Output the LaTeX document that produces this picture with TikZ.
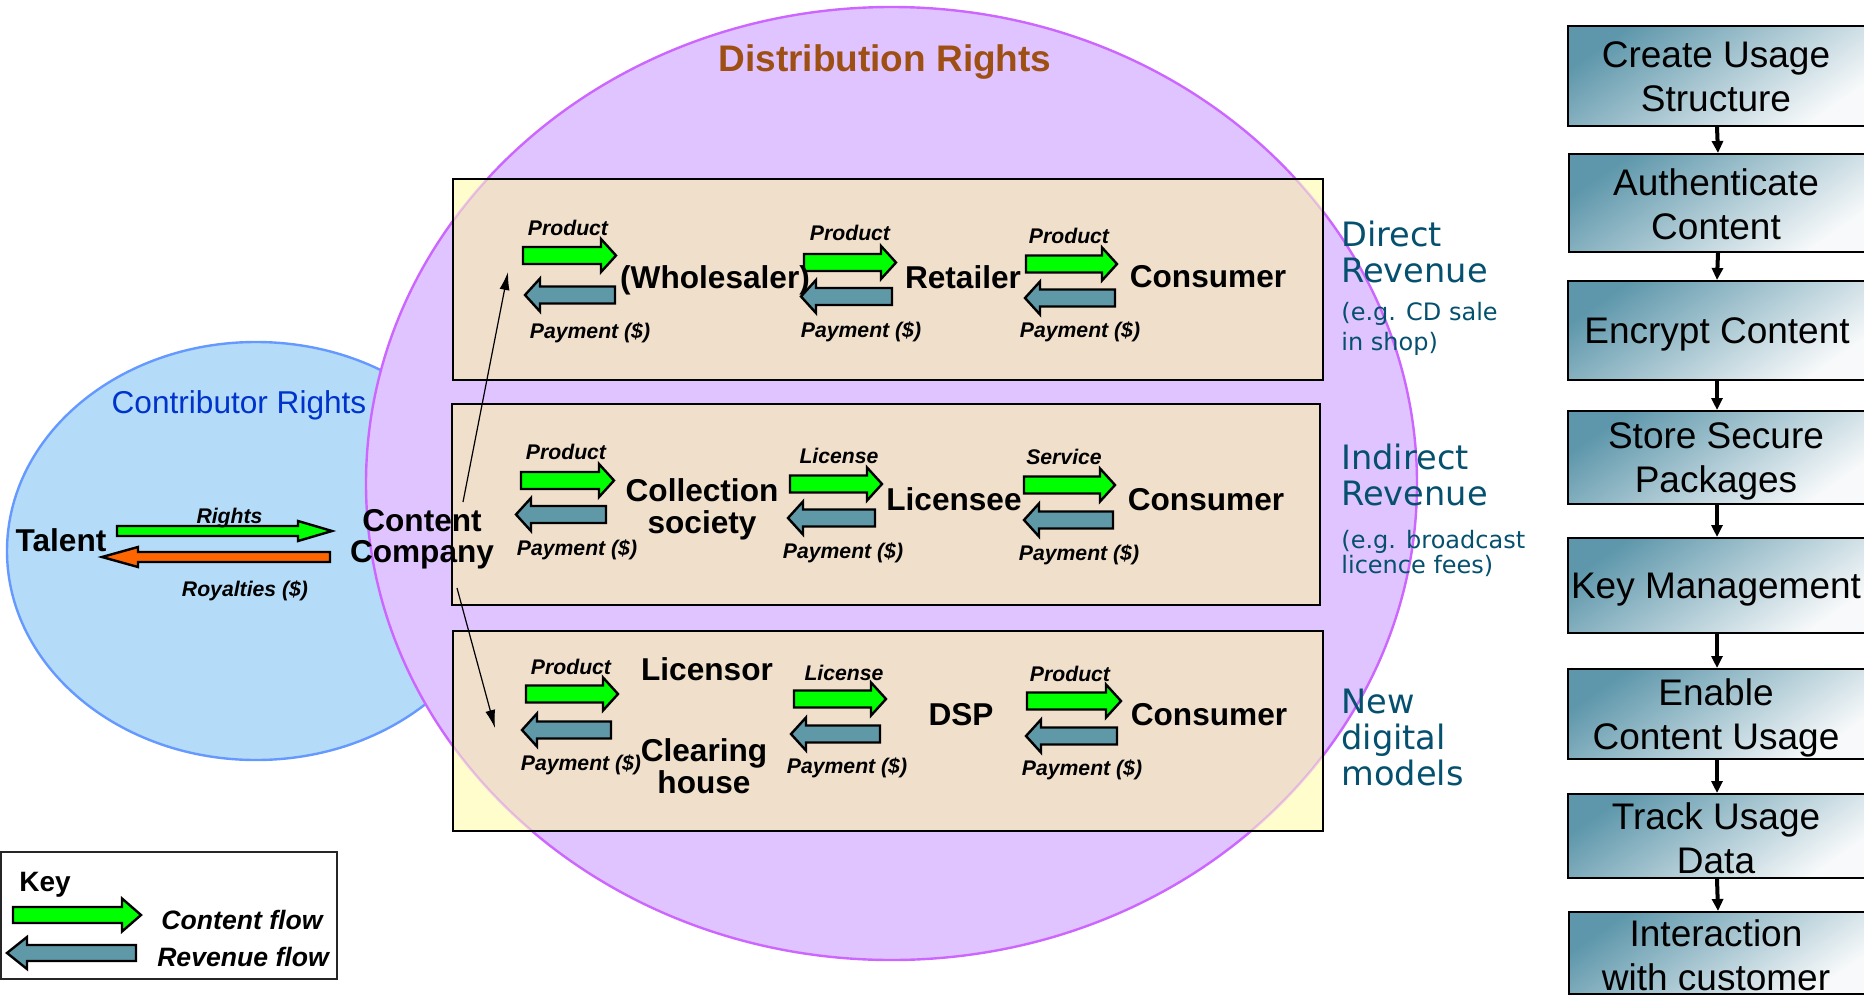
\documentclass[tikz,border=0pt]{standalone}
\usepackage{fontspec}
\setmainfont{Liberation Sans}
\newfontfamily\dvs{DejaVu Sans}
\usetikzlibrary{arrows.meta}
\definecolor{purfill}{HTML}{E0C4FF}
\definecolor{purline}{HTML}{CC66FF}
\definecolor{bluefill}{HTML}{B4DCF8}
\definecolor{blueline}{HTML}{6699FF}
\definecolor{tanc}{HTML}{EFDFCB}
\definecolor{paley}{HTML}{FFFDCC}
\definecolor{agreen}{HTML}{00FF00}
\definecolor{ateal}{HTML}{5F99A8}
\definecolor{aorange}{HTML}{FF6600}
\definecolor{titlebrown}{HTML}{9E5014}
\definecolor{contblue}{HTML}{0033CC}
\definecolor{sideteal}{HTML}{04506E}
\definecolor{boxdark}{HTML}{5E97AB}
\definecolor{boxmid}{HTML}{B4CDD6}
\definecolor{boxlight}{HTML}{F7F9FA}
\newcommand\mlc[1]{\begin{tabular}[t]{@{}c@{}}#1\end{tabular}}
\newcommand\mll[1]{\begin{tabular}[t]{@{}l@{}}#1\end{tabular}}
% right-pointing block arrow: style, x start, x tip, y centre, body half, head half, head length
\newcommand\RArr[7]{\draw[#1] (#2,#4-#5) -- (#3-#7,#4-#5) -- (#3-#7,#4-#6) -- (#3,#4) -- (#3-#7,#4+#6) -- (#3-#7,#4+#5) -- (#2,#4+#5) -- cycle;}
% left-pointing block arrow: style, x tip, x end, y centre, body half, head half, head length
\newcommand\LArr[7]{\draw[#1] (#3,#4-#5) -- (#2+#7,#4-#5) -- (#2+#7,#4-#6) -- (#2,#4) -- (#2+#7,#4+#6) -- (#2+#7,#4+#5) -- (#3,#4+#5) -- cycle;}
\newcommand\GA[3]{\RArr{garrow}{#1}{#2}{#3}{8.5}{16.5}{15}}
\newcommand\TA[3]{\LArr{tarrow}{#1}{#2}{#3}{8.5}{16.5}{15}}
\tikzset{
  garrow/.style={fill=agreen, draw=black, line width=1.2pt, line join=miter},
  tarrow/.style={fill=ateal, draw=black, line width=1.2pt, line join=miter},
  oarrow/.style={fill=aorange, draw=black, line width=1.2pt, line join=miter},
  lbl/.style={font=\fontsize{10.6}{12}\selectfont\bfseries\itshape, inner sep=0, anchor=base},
  ent/.style={font=\fontsize{15.8}{15.3}\selectfont\bfseries, inner sep=0, anchor=base},
  sidebig/.style={font=\dvs\fontsize{16.8}{18}\selectfont, text=sideteal, inner sep=0, anchor=base west},
  sidesmall/.style={font=\dvs\fontsize{12}{15}\selectfont, text=sideteal, inner sep=0, anchor=base west},
  rbox/.style={draw=black, line width=1pt, top color=boxdark, middle color=boxmid, bottom color=boxlight, shading angle=35, minimum width=149pt, inner sep=0},
  rtext/.style={font=\fontsize{18.5}{22}\selectfont, inner sep=0, anchor=base},
  rarr/.style={line width=2pt, -{Triangle[length=6pt,width=5.5pt]}},
  thinarr/.style={line width=0.6pt, -{Latex[length=9pt,width=5pt]}},
  keytext/.style={font=\fontsize{13.3}{15}\selectfont\bfseries\itshape, inner sep=0, anchor=base},
}
\begin{document}
\begin{tikzpicture}[x=0.5pt,y=-0.5pt]
\useasboundingbox (0,0) rectangle (1864,996);
% ellipses
\filldraw[fill=bluefill, draw=blueline, line width=1.2pt] (256,551) ellipse [x radius=249, y radius=209];
\filldraw[fill=purfill, draw=purline, line width=1.2pt] (891.5,483.5) ellipse [x radius=525.5, y radius=476.5];
% row boxes
\fill[paley] (453,179) rectangle (1323,380) (452,404) rectangle (1320,605) (453,631) rectangle (1323,831);
\begin{scope}
  \clip (891.5,483.5) ellipse [x radius=525.5, y radius=476.5];
  \fill[tanc] (453,179) rectangle (1323,380) (452,404) rectangle (1320,605) (453,631) rectangle (1323,831);
\end{scope}
\begin{scope}
  \clip (453,179) rectangle (1323,380) (452,404) rectangle (1320,605) (453,631) rectangle (1323,831);
  \draw[purline, opacity=0.35, line width=1.2pt] (891.5,483.5) ellipse [x radius=525.5, y radius=476.5];
\end{scope}
\draw[black, line width=1pt] (453,179) rectangle (1323,380) (452,404) rectangle (1320,605) (453,631) rectangle (1323,831);

% titles
\node[font=\fontsize{18.5}{20}\selectfont\bfseries, text=titlebrown, inner sep=0, anchor=base] (title) at (885,71) {Distribution Rights};
\node[font=\fontsize{15.8}{18}\selectfont, text=contblue, inner sep=0, anchor=base] (contrib) at (239,413) {Contributor Rights};

% talent / content company
\node[ent] (talent) at (61,551) {Talent};
\node[ent] (cc) at (422,531) {\mlc{Content\\Company}};
\RArr{garrow}{117}{332}{531}{5}{10}{34}
\LArr{oarrow}{102}{330}{557}{5}{10}{36}
\node[lbl] (rights) at (229.5,523) {Rights};
\node[lbl] (royal) at (245,596) {Royalties (\$)};

% row 1
\GA{523}{616}{255.5}  \TA{525}{615}{295}
\GA{804}{896}{262.5}  \TA{801}{892}{296.5}
\GA{1026}{1117}{264}  \TA{1025}{1115}{298}
\node[lbl] (p11) at (568,235) {Product};
\node[lbl] (q11) at (590,338) {Payment (\$)};
\node[lbl] (p12) at (850,240) {Product};
\node[lbl] (q12) at (861,337) {Payment (\$)};
\node[lbl] (p13) at (1069,243) {Product};
\node[lbl] (q13) at (1080,337) {Payment (\$)};
\node[ent] (whole) at (715,288) {(Wholesaler)};
\node[ent] (retail) at (963,288) {Retailer};
\node[ent] (cons1) at (1208,287) {Consumer};

% row 2
\GA{521}{614}{480.5}  \TA{516}{606}{514.5}
\GA{790}{882}{484}    \TA{788}{875}{518}
\GA{1024}{1115}{485}  \TA{1024}{1113}{520}
\node[lbl] (p21) at (566,459) {Product};
\node[lbl] (q21) at (577,555) {Payment (\$)};
\node[lbl] (p22) at (839,463) {License};
\node[lbl] (q22) at (843,558) {Payment (\$)};
\node[lbl] (p23) at (1064,464) {Service};
\node[lbl] (q23) at (1079,560) {Payment (\$)};
\node[ent] (coll) at (702,501) {\mlc{Collection\\society}};
\node[ent] (licensee) at (954,510) {Licensee};
\node[ent] (cons2) at (1206,510) {Consumer};

% row 3
\GA{526}{618}{694}    \TA{522}{611}{730}
\GA{794}{886}{699}    \TA{791}{880}{734}
\GA{1027}{1121}{701}  \TA{1026}{1117}{736}
\node[lbl] (p31) at (571,674) {Product};
\node[lbl] (q31) at (581,770) {Payment (\$)};
\node[lbl] (p32) at (844,680) {License};
\node[lbl] (q32) at (847,773) {Payment (\$)};
\node[lbl] (p33) at (1070,681) {Product};
\node[lbl] (q33) at (1082,775) {Payment (\$)};
\node[ent] (licensor) at (707,680) {Licensor};
\node[ent] (clear) at (704,761) {\mlc{Clearing\\house}};
\node[ent] (dsp) at (961,725) {DSP};
\node[ent] (cons3) at (1209,725) {Consumer};

% thin arrows from content company
\coordinate (s1) at (463,502);
\coordinate (e1) at (508,272);
\coordinate (s2) at (457,588);
\coordinate (e2) at (495,728);
\draw[thinarr] (s1) -- (e1);
\draw[thinarr] (s2) -- (e2);

% side labels
\node[sidebig] (dr) at (1341,246) {\mll{Direct\\Revenue}};
\node[sidesmall] (drs) at (1341,320) {\mll{(e.g. CD sale\\in shop)}};
\node[sidebig] (ir) at (1341,469) {\mll{Indirect\\Revenue}};
\node[sidesmall, font=\dvs\fontsize{12}{12}\selectfont] (irs) at (1341,548) {\mll{(e.g. broadcast\\licence fees)}};
\node[sidebig, font=\dvs\fontsize{16.8}{17.5}\selectfont] (nd) at (1341,713) {\mll{New\\digital\\models}};

% key
\draw[draw=black!85, fill=white, line width=1pt] (1,852) rectangle (337,979);
\node[font=\fontsize{14}{16}\selectfont\bfseries, inner sep=0, anchor=base west] (key) at (19,891) {Key};
\RArr{garrow}{13}{141}{915}{8}{16.5}{19}
\LArr{tarrow}{7}{136}{953}{8}{16}{20}
\node[keytext] (kc) at (242,929) {Content flow};
\node[keytext] (kr) at (243,966) {Revenue flow};

% right column
\node[rbox, minimum height=50pt] (r1) at (1717,76) {};
\node[rbox, minimum height=49pt] (r2) at (1718,203) {};
\node[rbox, minimum height=49.5pt] (r3) at (1717,330.5) {};
\node[rbox, minimum height=46.5pt] (r4) at (1717,457.5) {};
\node[rbox, minimum height=47.5pt] (r5) at (1717,585.5) {};
\node[rbox, minimum height=45pt] (r6) at (1717,714) {};
\node[rbox, minimum height=42pt] (r7) at (1717,836) {};
\node[rbox, minimum height=41pt] (r8) at (1718,953) {};
\node[rtext] (t1) at (1716,67) {\mlc{Create Usage\\Structure}};
\node[rtext] (t2) at (1716,195) {\mlc{Authenticate\\Content}};
\node[rtext] (t3) at (1717,343) {Encrypt Content};
\node[rtext] (t4) at (1716,448) {\mlc{Store Secure\\Packages}};
\node[rtext] (t5) at (1716,598) {Key Management};
\node[rtext] (t6) at (1716,705) {\mlc{Enable\\Content Usage}};
\node[rtext] (t7) at (1716,829) {\mlc{Track Usage\\Data}};
\node[rtext] (t8) at (1716,946) {\mlc{Interaction\\with customer}};
\draw[rarr] (r1.south) -- (r2.north);
\draw[rarr] (r2.south) -- (r3.north);
\draw[rarr] (r3.south) -- (r4.north);
\draw[rarr] (r4.south) -- (r5.north);
\draw[rarr] (r5.south) -- (r6.north);
\draw[rarr] (r6.south) -- (r7.north);
\draw[rarr] (r7.south) -- (r8.north);
\end{tikzpicture}
\end{document}
